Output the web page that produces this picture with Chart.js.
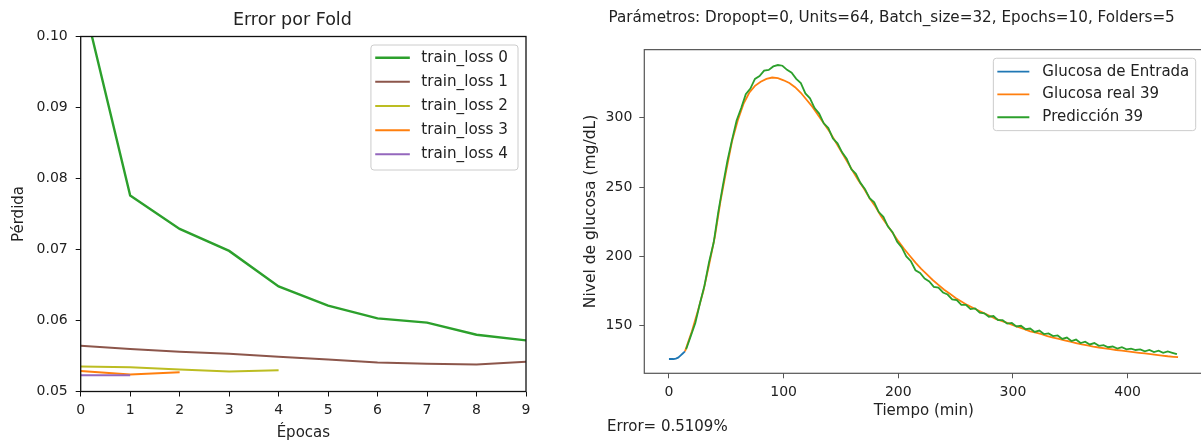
<!DOCTYPE html>
<html>
<head>
<meta charset="utf-8">
<script src="https://cdn.jsdelivr.net/npm/chart.js@4.4.1/dist/chart.umd.min.js"></script>
<style>
  html, body { margin: 0; padding: 0; background: #fff; overflow: hidden; width: 1201px; height: 442px; }
  #lossChart { position: absolute; left: 0; top: 0; }
  #glucoseChart { position: absolute; left: 580px; top: 0; }
</style>
</head>
<body>
<canvas id="lossChart" width="540" height="442"></canvas>
<canvas id="glucoseChart" width="640" height="442"></canvas>
<script>
// --- loss per fold ---
const epochs = [0, 1, 2, 3, 4, 5, 6, 7, 8, 9];
const trainLoss0 = [0.1066, 0.0776, 0.0729, 0.0698, 0.0648, 0.0621, 0.0603, 0.0597, 0.058, 0.0572];
const trainLoss1 = [0.05645, 0.056, 0.0556, 0.0553, 0.0549, 0.0545, 0.0541, 0.0539, 0.0538, 0.0542];
const trainLoss2 = [0.05353, 0.0534, 0.0531, 0.0528, 0.053];
const trainLoss3 = [0.0529, 0.0524, 0.0527];
const trainLoss4 = [0.0523, 0.0523];
const lossTicks = [0.05, 0.06, 0.07, 0.08, 0.09, 0.1];

// --- glucose curve ---
const inputTime = [0, 2, 4, 6, 8, 10, 12, 14];
const inputGlucose = [126, 126, 126, 126.3, 127, 128.5, 130, 131.5];

const realTime = [14, 20, 25, 30, 35, 40, 45, 50, 55, 60, 65, 70, 75, 80, 85, 90, 95, 100, 105, 110, 115,
  120, 125, 130, 135, 140, 145, 150, 155, 160, 165, 170, 175, 180, 185, 190, 195, 200, 205, 210, 215,
  220, 225, 230, 235, 240, 245, 250, 255, 260, 265, 270, 275, 280, 285, 290, 295, 300, 305, 310, 315,
  320, 325, 330, 335, 340, 345, 350, 355, 360, 365, 370, 375, 380, 385, 390, 395, 400, 405, 410, 415,
  420, 425, 430, 435, 440, 444];
const realGlucose = [131.5, 146, 160, 175, 194, 214, 240, 262, 283, 298, 310, 318, 323, 326, 328, 329, 328.5, 327, 325, 322, 318,
  313, 308, 302, 296, 290, 283, 276, 269, 262, 255, 249, 242, 236, 229, 223, 217, 211, 205.5, 200.5, 195.5,
  191, 187, 183, 179.5, 176, 173, 170, 167.5, 165, 163, 161, 159, 157, 155, 153.5, 152, 150.5, 149, 147.5, 146,
  145, 144, 142.5, 141.5, 140.5, 139.5, 138.5, 137.5, 136.5, 135.8, 135, 134.3, 133.7, 133.1, 132.5, 132, 131.5, 131, 130.5, 130,
  129.5, 129, 128.5, 128, 127.6, 127.3];

const predTime = [15, 19, 23, 27, 31, 35, 39, 43, 47, 51, 55, 59, 63, 67, 71, 75, 79, 83, 87, 91, 95, 99, 103, 107,
  111, 115, 119, 123, 127, 131, 135, 139, 143, 147, 151, 155, 159, 163, 167, 171, 175, 179, 183, 187, 191, 195,
  199, 203, 207, 211, 215, 219, 223, 227, 231, 235, 239, 243, 247, 251, 255, 259, 263, 267, 271, 275, 279, 283,
  287, 291, 295, 299, 303, 307, 311, 315, 319, 323, 327, 331, 335, 339, 343, 347, 351, 355, 359, 363, 367, 371,
  375, 379, 383, 387, 391, 395, 399, 403, 407, 411, 415, 419, 423, 427, 431, 435, 439, 443];
const predGlucose = [133, 142.5, 152, 166, 179, 196, 210, 232, 251, 269,
  284, 298, 307, 317, 321, 328, 330, 334, 334.5, 337,
  338, 337.5, 334.5, 332.5, 328, 325, 317.5, 314, 307, 303,
  296, 292.5, 285, 281.5, 275, 270.5, 263, 259.5, 253, 248.5,
  242, 239, 232, 228.5, 221.5, 217.5, 210.5, 206.5, 200, 196.5,
  190, 188, 184, 182, 178, 177.5, 174, 172.5, 169, 168.5,
  165, 165, 162, 162.5, 159.5, 159, 156.5, 157, 154, 154,
  151.5, 152, 149.5, 150, 147.5, 148, 145.5, 146.5, 144, 144.5,
  142.5, 143, 140.5, 141.5, 139, 140, 137.5, 138.5, 136.5, 137.5,
  135.5, 136, 134.5, 135, 133.5, 134.5, 133, 133.5, 132.5, 133,
  131.5, 132.5, 131, 132, 130.5, 131.5, 130.5, 129.5];
const timeTicks = [0, 100, 200, 300, 400];
const glucoseTicks = [150, 200, 250, 300];

const textColor = "#222";
const family = "'DejaVu Sans', sans-serif";

const toPoints = (xs, ys) => ys.map((y, i) => ({ x: xs[i], y }));

// box around the plot area
const frameBox = {
  id: "frameBox",
  afterDatasetsDraw(chart, args, opts) {
    const { ctx, chartArea: a } = chart;
    ctx.save();
    ctx.strokeStyle = opts.color;
    ctx.lineWidth = opts.width;
    ctx.strokeRect(a.left, a.top, a.right - a.left, a.bottom - a.top);
    ctx.restore();
  },
};

// legend drawn inside the plot, upper right, with a light frame
const boxLegend = {
  id: "boxLegend",
  afterDatasetsDraw(chart, args, opts) {
    const { ctx, chartArea: a } = chart;
    const items = chart.data.datasets;
    ctx.save();
    ctx.font = opts.font;
    const textW = Math.max(...items.map((d) => ctx.measureText(d.label).width));
    const w = opts.padLeft + opts.lineLength + opts.gap + textW + opts.padRight;
    const h = opts.padTop + opts.rowHeight * (items.length - 1) + opts.padBottom;
    const x = a.right - opts.right - w;
    const y = a.top + opts.top;
    ctx.beginPath();
    ctx.roundRect(x, y, w, h, 3);
    ctx.fillStyle = "rgba(255,255,255,0.8)";
    ctx.fill();
    ctx.strokeStyle = "#cccccc";
    ctx.lineWidth = 1;
    ctx.stroke();
    items.forEach((d, i) => {
      const cy = y + opts.padTop + i * opts.rowHeight;
      ctx.beginPath();
      ctx.moveTo(x + opts.padLeft, cy);
      ctx.lineTo(x + opts.padLeft + opts.lineLength, cy);
      ctx.strokeStyle = d.borderColor;
      ctx.lineWidth = d.borderWidth;
      ctx.stroke();
      ctx.fillStyle = textColor;
      ctx.textBaseline = "middle";
      ctx.textAlign = "left";
      ctx.fillText(d.label, x + opts.padLeft + opts.lineLength + opts.gap, cy);
    });
    ctx.restore();
  },
};

// free text placed relative to the plot area (titles, notes)
const captions = {
  id: "captions",
  afterDraw(chart, args, opts) {
    const { ctx, chartArea: a } = chart;
    (opts.items || []).forEach((c) => {
      ctx.save();
      ctx.font = c.font;
      ctx.fillStyle = textColor;
      ctx.textBaseline = "middle";
      ctx.textAlign = c.align || "left";
      const x = c.align === "center" ? (a.left + a.right) / 2 + c.dx : a.left + c.dx;
      const y = c.from === "top" ? a.top + c.dy : a.bottom + c.dy;
      ctx.fillText(c.text, x, y);
      ctx.restore();
    });
  },
};

const tickGrid = (color) => ({
  drawOnChartArea: false,
  drawTicks: true,
  tickLength: 5,
  color: color,
});

const lossChart = new Chart(document.getElementById("lossChart"), {
  type: "line",
  data: {
    datasets: [
      { label: "train_loss 0", data: toPoints(epochs, trainLoss0), borderColor: "#2ca02c", borderWidth: 2.4, order: 4 },
      { label: "train_loss 1", data: toPoints(epochs, trainLoss1), borderColor: "#8c564b", borderWidth: 2, order: 3 },
      { label: "train_loss 2", data: toPoints(epochs, trainLoss2), borderColor: "#bcbd22", borderWidth: 2, order: 2 },
      { label: "train_loss 3", data: toPoints(epochs, trainLoss3), borderColor: "#ff7f0e", borderWidth: 2, order: 1 },
      { label: "train_loss 4", data: toPoints(epochs, trainLoss4), borderColor: "#9467bd", borderWidth: 2, order: 0 },
    ],
  },
  options: {
    responsive: false,
    animation: false,
    elements: { point: { radius: 0 }, line: { tension: 0 } },
    layout: { padding: { left: 0, right: 14, top: 36.5, bottom: 0 } },
    scales: {
      x: {
        type: "linear",
        min: 0,
        max: 9,
        grid: tickGrid("#111"),
        border: { display: false },
        afterBuildTicks: (scale) => { scale.ticks = epochs.map((v) => ({ value: v })); },
        afterFit: (scale) => { scale.height = 50.5; },
        ticks: { color: textColor, font: { family, size: 14 }, padding: 5, maxRotation: 0 },
        title: { display: true, text: "Épocas", color: textColor, font: { family, size: 15 }, padding: { top: 0, bottom: 0 } },
      },
      y: {
        min: 0.05,
        max: 0.1,
        grid: tickGrid("#111"),
        border: { display: false },
        afterBuildTicks: (scale) => { scale.ticks = lossTicks.map((v) => ({ value: v })); },
        afterFit: (scale) => { scale.width = 80.7; },
        ticks: { color: textColor, font: { family, size: 14 }, padding: 8, callback: (v) => v.toFixed(2) },
        title: { display: true, text: "Pérdida", color: textColor, font: { family, size: 15 }, padding: { top: 10, bottom: 0 } },
      },
    },
    plugins: {
      legend: { display: false },
      tooltip: { enabled: false },
      frameBox: { color: "#111", width: 1.3 },
      boxLegend: {
        font: "15.2px " + family,
        right: 8, top: 8.5,
        padLeft: 4.3, lineLength: 34.6, gap: 11.4, padRight: 10,
        padTop: 12.7, padBottom: 15.7, rowHeight: 24.15,
      },
      captions: {
        items: [
          { text: "Error por Fold", font: "17.5px " + family, align: "center", from: "top", dx: -11, dy: -16.3 },
        ],
      },
    },
  },
  plugins: [frameBox, boxLegend, captions],
});

const glucoseChart = new Chart(document.getElementById("glucoseChart"), {
  type: "line",
  data: {
    datasets: [
      { label: "Glucosa de Entrada", data: toPoints(inputTime, inputGlucose), borderColor: "#1f77b4", borderWidth: 1.8, order: 2 },
      { label: "Glucosa real 39", data: toPoints(realTime, realGlucose), borderColor: "#ff7f0e", borderWidth: 1.8, order: 1 },
      { label: "Predicción 39", data: toPoints(predTime, predGlucose), borderColor: "#2ca02c", borderWidth: 1.8, order: 0 },
    ],
  },
  options: {
    responsive: false,
    animation: false,
    elements: { point: { radius: 0 }, line: { tension: 0 } },
    layout: { padding: { left: 0, right: 16.7, top: 0, bottom: 0 } },
    scales: {
      x: {
        type: "linear",
        min: -21.5,
        max: 466,
        grid: tickGrid("#555"),
        border: { display: false },
        afterBuildTicks: (scale) => { scale.ticks = timeTicks.map((v) => ({ value: v })); },
        afterFit: (scale) => { scale.height = 68.7; },
        ticks: { color: textColor, font: { family, size: 14 }, padding: 6, maxRotation: 0 },
        title: { display: true, text: "Tiempo (min)", color: textColor, font: { family, size: 15 }, padding: { top: 0, bottom: 22 } },
      },
      y: {
        min: 115.7,
        max: 349.1,
        grid: tickGrid("#555"),
        border: { display: false },
        afterBuildTicks: (scale) => { scale.ticks = glucoseTicks.map((v) => ({ value: v })); },
        afterFit: (scale) => { scale.width = 64.3; },
        ticks: { color: textColor, font: { family, size: 14 }, padding: 7 },
        title: { display: true, text: "Nivel de glucosa (mg/dL)", color: textColor, font: { family, size: 15.5 }, padding: { top: 1.4, bottom: 0 } },
      },
    },
    plugins: {
      legend: { display: false },
      tooltip: { enabled: false },
      title: {
        display: true,
        text: "Parámetros: Dropopt=0, Units=64, Batch_size=32, Epochs=10, Folders=5",
        color: textColor,
        font: { family, size: 15.2, weight: "normal" },
        padding: { top: 8.9, bottom: 22.5 },
      },
      frameBox: { color: "#555", width: 1.2 },
      boxLegend: {
        font: "15px " + family,
        right: 7.6, top: 8.6,
        padLeft: 4, lineLength: 32, gap: 13, padRight: 6.4,
        padTop: 13.4, padBottom: 13.4, rowHeight: 22.8,
      },
      captions: {
        items: [
          { text: "Error= 0.5109%", font: "15px " + family, from: "bottom", dx: -37.3, dy: 53.7 },
        ],
      },
    },
  },
  plugins: [frameBox, boxLegend, captions],
});
</script>
</body>
</html>
